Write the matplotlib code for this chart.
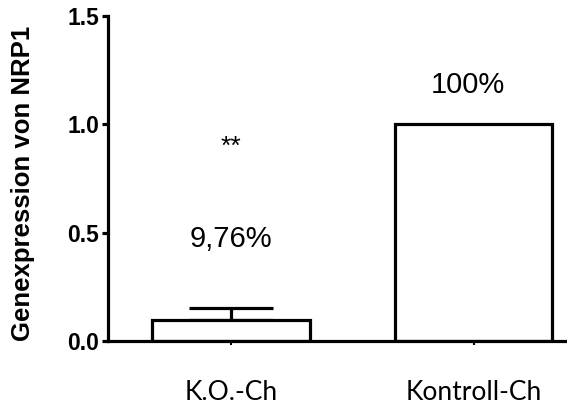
import matplotlib
matplotlib.use("Agg")
import matplotlib.pyplot as plt

categories = ["K.O.-Ch", "Kontroll-Ch"]
values = [0.0976, 1.0]
errors_upper = [0.056, 0.0]
bar_labels = ["9,76%", "100%"]
significance = ["**", ""]
yticks = [0.0, 0.5, 1.0, 1.5]
ytick_labels = ["0.0", "0.5", "1.0", "1.5"]

W, H = 567, 407
fig = plt.figure(figsize=(W / 100, H / 100), dpi=100)
ax = fig.add_axes([108 / W, 1 - 341 / H, 1 - 108 / W, (341 - 16) / H])

x = list(range(len(categories)))
lw = 2.3
ax.bar(x, values, width=0.65, color="white", edgecolor="black", linewidth=lw, zorder=2)
ax.errorbar([x[0]], [values[0]], yerr=[[0], [errors_upper[0]]], fmt="none",
            ecolor="black", elinewidth=lw, capsize=30, capthick=lw, zorder=1)

ax.set_xlim(-0.506, 1.385)
ax.set_ylim(0, 1.5)
ax.spines["top"].set_visible(False)
ax.spines["right"].set_visible(False)
ax.spines["left"].set_linewidth(lw)
ax.spines["bottom"].set_linewidth(lw)

ax.set_yticks(yticks)
ax.set_yticklabels(ytick_labels, fontfamily="Liberation Sans", fontweight="bold", fontsize=16.5)
ax.tick_params(axis="y", length=4.5, width=lw, pad=2)
ax.set_xticks(x)
ax.set_xticklabels(categories, fontfamily="Lato", fontsize=19)
ax.tick_params(axis="x", length=3, width=1.5, pad=25)

ax.set_ylabel("Genexpression von NRP1", fontfamily="Liberation Sans", fontweight="bold",
              fontsize=18.5)
ax.yaxis.set_label_coords(-0.158, 0.485)

# annotations
ax.text(x[0], 0.472, bar_labels[0], ha="center", va="center", fontfamily="Liberation Sans", fontsize=21)
ax.text(x[0], 0.895, significance[0], ha="center", va="center", fontfamily="Liberation Sans", fontsize=19)
ax.text(x[1] - 0.023, 1.18, bar_labels[1], ha="center", va="center", fontfamily="Liberation Sans", fontsize=21)

fig.savefig("out.png", dpi=100)
